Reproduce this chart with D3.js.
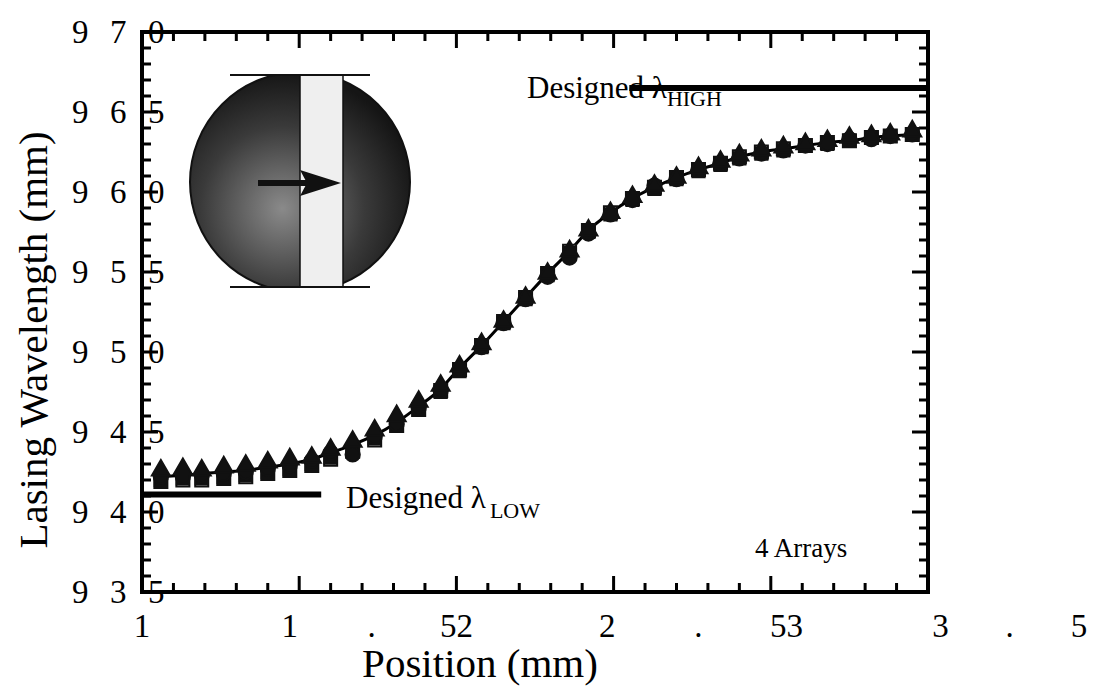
<!DOCTYPE html>
<html><head><meta charset="utf-8">
<script src="https://cdn.jsdelivr.net/npm/d3@7"></script>
</head><body style="margin:0">
<svg width="1103" height="688" style="font-family:'Liberation Serif',serif;background:#fff"></svg>
<script>
// positions along the array (mm) and lasing wavelength for each of the 4 arrays
const positions = [1.06,1.13,1.19,1.26,1.33,1.40,1.47,1.54,1.60,1.67,1.74,1.81,1.88,1.95,2.01,2.08,2.15,2.22,2.29,2.36,2.42,2.49,2.56,2.63,2.70,2.77,2.84,2.90,2.97,3.04,3.11,3.18,3.25,3.32,3.38,3.45];
const fitLine   = [942.2,942.3,942.4,942.5,942.6,942.8,943.0,943.3,943.7,944.2,944.8,945.6,946.6,947.7,949.0,950.4,951.9,953.4,954.9,956.3,957.6,958.7,959.6,960.3,960.9,961.4,961.8,962.2,962.5,962.7,962.9,963.1,963.2,963.4,963.5,963.6];
const triangles = [942.6,942.7,942.6,942.8,942.9,943.1,943.3,943.4,943.9,944.4,945.1,946.0,946.9,947.9,949.1,950.5,951.9,953.4,954.9,956.3,957.6,958.7,959.7,960.4,960.9,961.5,961.9,962.3,962.6,962.8,963.0,963.2,963.4,963.5,963.6,963.8];
const circles   = [942.2,942.2,942.3,942.4,942.5,942.7,942.9,943.2,943.7,943.6,944.7,945.5,946.5,947.6,948.9,950.3,951.8,953.3,954.7,955.9,957.4,958.6,959.5,960.4,960.8,961.4,961.8,962.1,962.4,962.6,962.9,963.0,963.3,963.3,963.5,963.6];
const squares   = [942.0,942.1,942.1,942.2,942.3,942.5,942.7,943.0,943.4,943.9,944.6,945.4,946.4,947.5,948.8,950.3,951.8,953.3,954.8,956.2,957.5,958.6,959.5,960.2,960.8,961.3,961.7,962.1,962.4,962.6,962.9,963.0,963.2,963.4,963.5,963.6];
const openSq    = [941.9,942.0,942.0,942.1,942.2,942.4,942.6,942.9,943.3,943.8,944.5,945.4,946.4,947.6,948.9,950.4,951.9,953.4,954.9,956.3,957.6,958.7,959.6,960.3,960.9,961.4,961.8,962.2,962.5,962.7,962.9,963.1,963.2,963.4,963.5,963.6];
const lambdaHigh = 966.5, lambdaLow = 941.1;
// tick label pieces as printed (garbled spacing of the scan)
const yLabelPieces = [["9",970,-70],["7",970,-32],["0",970,6],["9",965,-70],["6",965,-32],["5",965,6],["9",960,-70],["6",960,-32],["0",960,6],
  ["9",955,-70],["5",955,-32],["5",955,6],["9",950,-70],["5",950,-32],["0",950,6],["9",945,-70],["4",945,-32],["5",945,6],
  ["9",940,-70],["4",940,-32],["0",940,6],["9",935,-70],["3",935,-32],["5",935,6]];
const xLabelPieces = [["1",1.0],["1",1.47],[".",1.73],["52",2.0],["2",2.48],[".",2.77],["53",3.05],["3",3.54],[".",3.76],["5",3.98]];

const FONT = "Liberation Serif";
const svg = d3.select("svg");
const L = 142, R = 928, T = 32, B = 592;
const x = d3.scaleLinear().domain([1, 3.5]).range([L, R]);
const y = d3.scaleLinear().domain([935, 970]).range([B, T]);

// ticks first (inward, on all four sides)
const tk = svg.append("g").attr("stroke", "black").attr("stroke-width", 3);
x.ticks(25).forEach((v, i) => {
  const len = i % 5 === 0 ? 16 : 9;
  tk.append("line").attr("x1", x(v)).attr("x2", x(v)).attr("y1", B).attr("y2", B - len);
  tk.append("line").attr("x1", x(v)).attr("x2", x(v)).attr("y1", T).attr("y2", T + len);
});
y.ticks(35).forEach((v, i) => {
  const len = i % 5 === 0 ? 16 : 9;
  tk.append("line").attr("x1", L).attr("x2", L + len).attr("y1", y(v)).attr("y2", y(v));
  tk.append("line").attr("x1", R).attr("x2", R - len).attr("y1", y(v)).attr("y2", y(v));
});

// inset wafer
const defs = svg.append("defs");
const rg = defs.append("radialGradient").attr("id", "wg").attr("cx", "0.42").attr("cy", "0.62").attr("r", "0.62");
rg.append("stop").attr("offset", "0").attr("stop-color", "#8a8a8a");
rg.append("stop").attr("offset", "0.6").attr("stop-color", "#3a3a3a");
rg.append("stop").attr("offset", "1").attr("stop-color", "#151515");
defs.append("clipPath").attr("id", "wclip").append("rect").attr("x", 185).attr("y", 74).attr("width", 230).attr("height", 214);
const wafer = svg.append("g").attr("clip-path", "url(#wclip)");
wafer.append("circle").attr("cx", 300).attr("cy", 182).attr("r", 110)
  .attr("fill", "url(#wg)").attr("stroke", "#111").attr("stroke-width", 2);
wafer.append("rect").attr("x", 300).attr("y", 70).attr("width", 43).attr("height", 222)
  .attr("fill", "#efefef").attr("stroke", "#111").attr("stroke-width", 1.5);
wafer.append("path").attr("d", "M230,75H370M230,287H370").attr("stroke", "#111").attr("stroke-width", 2);
svg.append("path").attr("d", "M258,180H315V186H258Z M300,170L341,183L300,196L307,183Z").attr("fill", "#111");

// designed lines
svg.append("line").attr("x1", x(2.55)).attr("x2", R).attr("y1", y(lambdaHigh)).attr("y2", y(lambdaHigh)).attr("stroke", "#000").attr("stroke-width", 6);
svg.append("line").attr("x1", L).attr("x2", x(1.57)).attr("y1", y(lambdaLow)).attr("y2", y(lambdaLow)).attr("stroke", "#000").attr("stroke-width", 6);

// fit line
svg.append("path").datum(positions.map((p, i) => [p, fitLine[i]]))
  .attr("d", d3.line().x(d => x(d[0])).y(d => y(d[1])).curve(d3.curveMonotoneX))
  .attr("fill", "none").attr("stroke", "#000").attr("stroke-width", 3);

// markers
const series = [
  {vals: openSq, sym: d3.symbolSquare, fill: "#fff", size: 170},
  {vals: squares, sym: d3.symbolSquare, fill: "#111", size: 150},
  {vals: circles, sym: d3.symbolCircle, fill: "#111", size: 160},
  {vals: triangles, sym: d3.symbolTriangle, fill: "#111", size: 140}
];
series.forEach(s => {
  svg.append("g").selectAll("path").data(positions).join("path")
    .attr("transform", (p, i) => `translate(${x(p)},${y(s.vals[i])})`)
    .attr("d", d3.symbol().type(s.sym).size(s.size))
    .attr("fill", s.fill).attr("stroke", "#111").attr("stroke-width", 2);
});

svg.append("rect").attr("x", L).attr("y", T).attr("width", R - L).attr("height", B - T)
  .attr("fill", "none").attr("stroke", "#000").attr("stroke-width", 4);

// tick labels
svg.append("g").selectAll("text").data(yLabelPieces).join("text")
  .attr("x", d => L + d[2]).attr("y", d => y(d[1]) + 11)
  .style("font-family", FONT).attr("font-size", 33).text(d => d[0]);
svg.append("g").selectAll("text").data(xLabelPieces).join("text")
  .attr("x", d => x(d[1])).attr("y", 637)
  .style("font-family", FONT).attr("font-size", 33).attr("text-anchor", "middle").text(d => d[0]);

// titles and annotations
svg.append("text").attr("transform", `translate(47,${(T + B) / 2 + 28}) rotate(-90)`)
  .style("font-family", FONT).attr("text-anchor", "middle").attr("font-size", 41).text("Lasing Wavelength (mm)");
svg.append("text").attr("x", 480).attr("y", 677).style("font-family", FONT)
  .attr("text-anchor", "middle").attr("font-size", 41).text("Position (mm)");
const hi = svg.append("text").attr("x", 527).attr("y", 98).style("font-family", FONT).attr("font-size", 31);
hi.append("tspan").text("Designed λ");
hi.append("tspan").attr("dy", 8).attr("font-size", 22).text("HIGH");
const lo = svg.append("text").attr("x", 346).attr("y", 508).style("font-family", FONT).attr("font-size", 31);
lo.append("tspan").text("Designed λ");
lo.append("tspan").attr("dx", 4).attr("dy", 10).attr("font-size", 22).text("LOW");
svg.append("text").attr("x", 755).attr("y", 557).style("font-family", FONT).attr("font-size", 27).text("4 Arrays");
</script></body></html>
